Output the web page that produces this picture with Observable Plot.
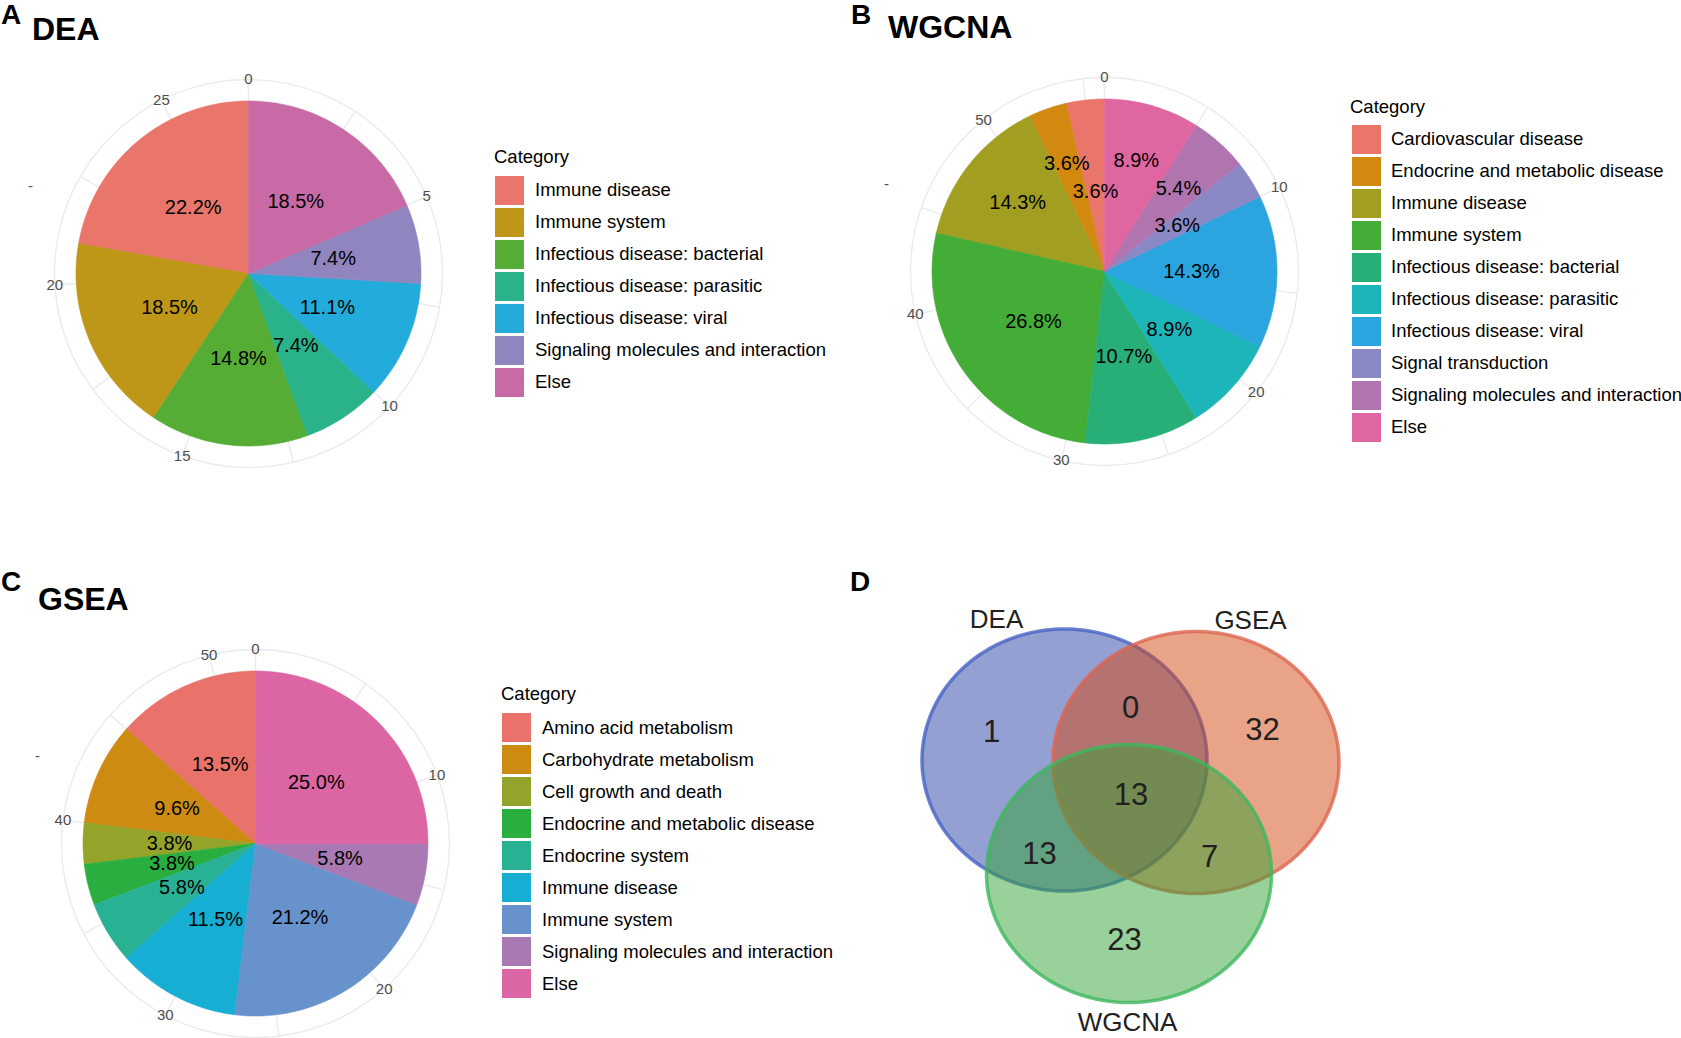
<!DOCTYPE html>
<html>
<head>
<meta charset="utf-8">
<script src="https://cdn.jsdelivr.net/npm/d3@7"></script>
<script src="https://cdn.jsdelivr.net/npm/@observablehq/plot@0.6"></script>
<style>
  body { margin: 0; background: #fff; }
  #fig { position: relative; width: 1681px; height: 1038px; overflow: hidden; background: #fff;
         font-family: "Liberation Sans", Arial, sans-serif; color: #000; }
  #fig .t { position: absolute; white-space: nowrap; }
  #fig svg { position: absolute; }
</style>
</head>
<body>
<div id="fig"></div>
<script>
// ---------------- DATA ----------------
// Panel A: DEA
const deaCategories = ["Immune disease", "Immune system", "Infectious disease: bacterial",
  "Infectious disease: parasitic", "Infectious disease: viral", "Signaling molecules and interaction", "Else"];
const deaCounts = [6, 5, 4, 2, 3, 2, 5];
const deaTicks = [0, 5, 10, 15, 20, 25];

// Panel B: WGCNA
const wgcnaCategories = ["Cardiovascular disease", "Endocrine and metabolic disease", "Immune disease",
  "Immune system", "Infectious disease: bacterial", "Infectious disease: parasitic",
  "Infectious disease: viral", "Signal transduction", "Signaling molecules and interaction", "Else"];
const wgcnaCounts = [2, 2, 8, 15, 6, 5, 8, 2, 3, 5];
const wgcnaTicks = [0, 10, 20, 30, 40, 50];

// Panel C: GSEA
const gseaCategories = ["Amino acid metabolism", "Carbohydrate metabolism", "Cell growth and death",
  "Endocrine and metabolic disease", "Endocrine system", "Immune disease", "Immune system",
  "Signaling molecules and interaction", "Else"];
const gseaCounts = [7, 5, 2, 2, 3, 6, 11, 3, 13];
const gseaTicks = [0, 10, 20, 30, 40, 50];

// Panel D: Venn
const vennSets = ["DEA", "GSEA", "WGCNA"];
const vennRegions = ["DEA only", "DEA & GSEA", "GSEA only", "DEA & GSEA & WGCNA", "DEA & WGCNA", "GSEA & WGCNA", "WGCNA only"];
const vennCounts = [1, 0, 32, 13, 13, 7, 23];

// ---------------- STYLES / LAYOUT ----------------
const deaColors = ["#E9756B", "#BE9618", "#55AD35", "#2AB38B", "#22ABDB", "#9185BF", "#C86AA6"];
const wgcnaColors = ["#E9756B", "#D2890F", "#A29E22", "#43AD37", "#27AF77", "#1CB5B9", "#2BA5E0", "#8A89C5", "#B074AE", "#DF66A1"];
const gseaColors = ["#E9736A", "#CE8B12", "#94A42A", "#2AAE3F", "#28B293", "#17AED3", "#6792CC", "#A979B3", "#DB66A3"];
// label radius (pixels) per slice for WGCNA (labels were nudged in the original)
const wgcnaLabelR = [80, 114, 111, 87, 87, 87, 87, 86, 111, 115];

const FONT = '"Liberation Sans", Arial, sans-serif';
const LEG = 18.5;
const fig = document.getElementById("fig");

function addText(txt, x, baseline, size, weight = "normal", color = "#000") {
  const d = document.createElement("div");
  d.className = "t";
  d.textContent = txt;
  d.style.left = x + "px";
  d.style.top = Math.max(0, baseline - 0.8465 * size) + "px";
  d.style.fontSize = size + "px";
  d.style.lineHeight = size + "px";
  d.style.fontWeight = weight;
  d.style.color = color;
  fig.appendChild(d);
}

function legend(categories, colors, L) {
  addText("Category", L.titleX, L.titleBase, LEG);
  categories.forEach((c, i) => {
    const k = document.createElement("div");
    k.style.cssText = `position:absolute;left:${L.keyX}px;top:${L.keyTop + 32 * i}px;width:29px;height:29px;background:${colors[i]}`;
    fig.appendChild(k);
    addText(c, L.labelX, L.keyTop + 32 * i + 14.5 + 0.358 * LEG, LEG);
  });
}

function pie(categories, counts, ticks, colors, cx, cy, labelR) {
  const W = 470, H = 440;
  const total = d3.sum(counts);
  const R = 172.5, RO = 194;
  const ang = v => 2 * Math.PI * v / total;
  const px = (r, v) => r * Math.sin(ang(v));
  const py = (r, v) => r * Math.cos(ang(v));
  const step = ticks[1] - ticks[0];
  const minor = ticks.map(t => t + step / 2).filter(t => t < total);
  const allTicks = ticks.concat(minor);

  const pts = [], labels = [];
  let end = total;
  categories.forEach((cat, i) => {
    const start = end - counts[i];
    const n = Math.max(4, Math.ceil(counts[i] / total * 360));
    pts.push({cat, x: 0, y: 0});
    for (let k = 0; k <= n; k++) {
      const v = start + (end - start) * k / n;
      pts.push({cat, x: px(R, v), y: py(R, v)});
    }
    pts.push({cat, x: 0, y: 0});
    const mid = (start + end) / 2;
    const lr = labelR ? labelR[i] : 86;
    labels.push({cat, text: (counts[i] / total * 100).toFixed(1) + "%", x: px(lr, mid), y: py(lr, mid)});
    end = start;
  });

  const svg = Plot.plot({
    width: W, height: H, margin: 0,
    x: {domain: [-W / 2, W / 2], axis: null},
    y: {domain: [-H / 2, H / 2], axis: null},
    color: {domain: categories, range: colors},
    style: {background: "transparent", overflow: "visible", fontFamily: FONT},
    marks: [
      Plot.link(allTicks, {x1: 0, y1: 0, x2: t => px(RO, t), y2: t => py(RO, t), stroke: "#EBEBEB", strokeWidth: 1.4}),
      Plot.dot([0], {x: 0, y: 0, r: RO, stroke: "#EBEBEB", strokeWidth: 1.4, fill: "none"}),
      Plot.line(pts, {x: "x", y: "y", z: "cat", fill: "cat", stroke: "cat", strokeWidth: 0.6}),
      Plot.text(labels, {x: "x", y: "y", text: "text", fontSize: 20, fill: "#000"}),
      Plot.text(ticks, {x: t => px(RO, t), y: t => py(RO, t), text: t => String(t), fontSize: 15, fill: "#4D4D4D"}),
      Plot.text(["-"], {x: -218, y: 87, text: d => d, fontSize: 15, fill: "#4D4D4D"})
    ]
  });
  svg.style.left = (cx - W / 2) + "px";
  svg.style.top = (cy - H / 2) + "px";
  fig.appendChild(svg);
}

// ---------- Panel A ----------
addText("A", 1, 25, 28, "bold");
addText("DEA", 32, 40, 32, "bold");
pie(deaCategories, deaCounts, deaTicks, deaColors, 247.5, 273, null);
legend(deaCategories, deaColors, {titleX: 494, titleBase: 163.5, keyX: 495, keyTop: 175.7, labelX: 535});

// ---------- Panel B ----------
addText("B", 851, 25, 28, "bold");
addText("WGCNA", 888, 38, 32, "bold");
pie(wgcnaCategories, wgcnaCounts, wgcnaTicks, wgcnaColors, 1104, 270.5, wgcnaLabelR);
legend(wgcnaCategories, wgcnaColors, {titleX: 1350, titleBase: 113.5, keyX: 1352, keyTop: 125, labelX: 1391});

// ---------- Panel C ----------
addText("C", 1, 592, 28, "bold");
addText("GSEA", 38, 610, 32, "bold");
pie(gseaCategories, gseaCounts, gseaTicks, gseaColors, 254.5, 842.5, null);
legend(gseaCategories, gseaColors, {titleX: 501, titleBase: 701, keyX: 502, keyTop: 713.3, labelX: 542});

// ---------- Panel D (Venn) ----------
addText("D", 850, 592, 28, "bold");
const vennGeom = [
  {cx: 1064, cy: 759.5, rx: 142.5, ry: 131, fill: "#2A40A5", stroke: "#4663C4"},
  {cx: 1195.5, cy: 762, rx: 143, ry: 131, fill: "#D4480F", stroke: "#DD6550"},
  {cx: 1128.5, cy: 873, rx: 142.5, ry: 129, fill: "#31A333", stroke: "#3DB85E"}
];
const vennSetLabelPos = [[996, 619], [1250, 620], [1127, 1022]];
const vennRegionPos = [[991, 731.5], [1130, 708], [1262, 730], [1130.5, 795], [1039, 854], [1209, 856.5], [1124, 940]];

const vennMarks = [];
vennSets.forEach((s, i) => {
  const g = vennGeom[i];
  const pts = d3.range(0, 181).map(k => {
    const a = 2 * Math.PI * k / 180;
    return {x: g.cx + g.rx * Math.cos(a), y: g.cy + g.ry * Math.sin(a)};
  });
  vennMarks.push(Plot.line(pts, {x: "x", y: "y", fill: g.fill, fillOpacity: 0.5, stroke: g.stroke, strokeOpacity: 0.8, strokeWidth: 3.5}));
});
vennMarks.push(Plot.text(vennSets, {x: (d, i) => vennSetLabelPos[i][0], y: (d, i) => vennSetLabelPos[i][1], text: d => d, fontSize: 26, fill: "#231F20"}));
vennMarks.push(Plot.text(vennCounts, {x: (d, i) => vennRegionPos[i][0], y: (d, i) => vennRegionPos[i][1], text: d => String(d), fontSize: 31, fill: "#231F20"}));

const venn = Plot.plot({
  width: 520, height: 478, margin: 0,
  x: {domain: [840, 1360], range: [0, 520], axis: null},
  y: {domain: [560, 1038], range: [0, 478], axis: null},
  style: {background: "transparent", overflow: "visible", fontFamily: FONT},
  marks: vennMarks
});
venn.style.left = "840px";
venn.style.top = "560px";
fig.appendChild(venn);
</script>
</body>
</html>
